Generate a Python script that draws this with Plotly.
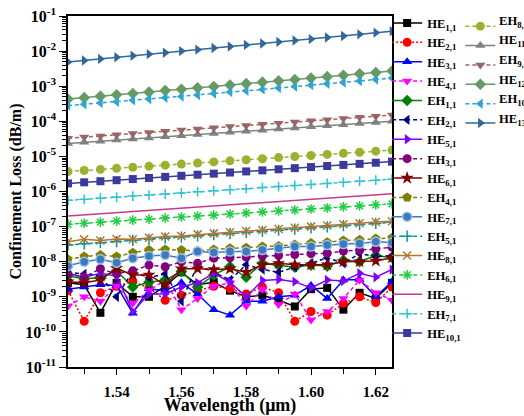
import plotly.graph_objects as go

wavelength = [1.525, 1.530, 1.535, 1.540, 1.545, 1.550, 1.555, 1.560, 1.565, 1.570, 1.575,
              1.580, 1.585, 1.590, 1.595, 1.600, 1.605, 1.610, 1.615, 1.620, 1.625]

HE11 = [2.5e-9, 2.2e-9, 3.5e-10, 2.5e-9, 1.0e-9, 1.0e-9, 2.0e-9, 5.0e-9, 2.2e-9, 2.6e-9, 1.5e-9,
        1.0e-9, 1.1e-9, 8e-10, 5.3e-10, 1.65e-9, 1.8e-9, 4.3e-10, 1.3e-9, 9e-10, 2.5e-9]
HE21 = [1.5e-9, 2.0e-10, 1.3e-9, 2.0e-9, 2.7e-9, 1.8e-9, 8e-10, 1.1e-9, 1.5e-9, 2.0e-9, 1.7e-9,
        1.2e-9, 1.9e-9, 1.3e-9, 2.0e-10, 3.8e-10, 3.0e-10, 6.5e-10, 1.0e-9, 6.8e-10, 1.9e-9]
HE31 = [1.65e-9, 1.9e-9, 2.2e-9, 2.1e-9, 3.4e-10, 1.7e-9, 1.5e-9, 2.5e-9, 1.2e-9, 4.3e-10, 3.0e-10,
        7.5e-10, 7.5e-10, 1.0e-9, 1.1e-9, 2.1e-9, 9e-10, 3.0e-9, 3.1e-9, 1.0e-9, 2.7e-9]
HE41 = [5.5e-10, 1.0e-9, 7.5e-10, 2.0e-9, 6.5e-10, 1.5e-9, 3.0e-9, 4.3e-10, 9e-10, 2.0e-9, 2.5e-9,
        5.5e-10, 1.65e-9, 6e-10, 1.2e-9, 2.2e-10, 3.8e-10, 9e-10, 3.0e-9, 1.3e-9, 8e-10]
EH11 = [4e-9, 3.2e-9, 3.6e-9, 5.5e-9, 1.9e-9, 2.6e-9, 3.0e-9, 5.3e-9, 1.9e-9, 4.2e-9, 7.2e-9,
        3.6e-9, 9e-9, 8e-9, 7e-9, 8e-9, 7.5e-9, 1.1e-8, 1.0e-8, 1.5e-8, 1.3e-8]
EH21 = [5e-9, 4.5e-9, 4.0e-9, 1.0e-9, 5.3e-9, 3.5e-9, 4.5e-9, 7.5e-10, 8e-9, 5e-9, 3e-9,
        8.2e-9, 6e-9, 5e-9, 7e-9, 9e-9, 1.3e-8, 9e-9, 1.7e-8, 1.4e-8, 1.5e-8]
HE51 = [4.7e-9, 3.6e-9, 4.7e-9, 3.9e-9, 3.8e-10, 1.2e-9, 1.2e-9, 1.9e-9, 2.5e-9, 4.7e-9, 2.6e-9,
        1.0e-9, 2.9e-9, 3.1e-9, 2.7e-9, 1.8e-9, 3.0e-9, 2.8e-9, 4.7e-9, 3.6e-9, 6.0e-9]
EH31 = [4.5e-9, 3.6e-9, 6.3e-9, 4.5e-9, 5.5e-9, 8e-9, 7.2e-9, 1.0e-8, 9e-9, 1.26e-8, 1.3e-8,
        1.35e-8, 1.45e-8, 1.5e-8, 1.6e-8, 1.7e-8, 1.75e-8, 2.0e-8, 2.1e-8, 2.3e-8, 2.6e-8]
HE61 = [2.7e-9, 2.5e-9, 3.0e-9, 6.5e-9, 4.2e-9, 4.2e-9, 2.2e-9, 6.3e-9, 6.3e-9, 6.0e-9, 6.3e-9,
        5.0e-9, 8.2e-9, 9.0e-9, 8.2e-9, 8.2e-9, 8.2e-9, 1.0e-8, 1.0e-8, 1.05e-8, 1.3e-8]
EH41 = [1.17e-8, 1.4e-8, 1.55e-8, 1.4e-8, 1.8e-8, 2.15e-8, 2.23e-8, 2.15e-8, 2.05e-8, 2.23e-8, 2.4e-8,
        2.5e-8, 2.7e-8, 2.8e-8, 3.1e-8, 3.4e-8, 3.6e-8, 4.0e-8, 4.2e-8, 4.6e-8, 4.8e-8]
HE71 = [7.6e-9, 1.0e-8, 1.17e-8, 9.3e-9, 1.26e-8, 1.45e-8, 1.55e-8, 1.26e-8, 1.95e-8, 1.82e-8, 1.95e-8,
        1.95e-8, 2.15e-8, 2.4e-8, 2.7e-8, 2.7e-8, 3.0e-8, 3.2e-8, 3.3e-8, 3.7e-8, 3.5e-8]
EH51 = [3.0e-8, 3.23e-8, 3.48e-8, 3.75e-8, 4.04e-8, 4.35e-8, 4.68e-8, 5.04e-8, 5.43e-8, 5.85e-8, 6.3e-8,
        6.78e-8, 7.3e-8, 7.87e-8, 8.47e-8, 9.13e-8, 9.83e-8, 1.06e-7, 1.14e-7, 1.23e-7, 1.32e-7]
HE81 = [3.7e-8, 4.35e-8, 4.0e-8, 4.45e-8, 4.35e-8, 4.8e-8, 5.2e-8, 5.4e-8, 6.0e-8, 6.4e-8, 6.9e-8,
        7.5e-8, 8.0e-8, 8.5e-8, 9.3e-8, 1.0e-7, 1.07e-7, 1.17e-7, 1.24e-7, 1.35e-7, 1.42e-7]
EH61 = [1.17e-7, 1.25e-7, 1.34e-7, 1.43e-7, 1.53e-7, 1.63e-7, 1.75e-7, 1.87e-7, 2.0e-7, 2.13e-7, 2.28e-7,
        2.44e-7, 2.61e-7, 2.79e-7, 2.98e-7, 3.18e-7, 3.4e-7, 3.64e-7, 3.89e-7, 4.16e-7, 4.45e-7]
HE91 = [2.0e-7, 2.15e-7, 2.32e-7, 2.49e-7, 2.68e-7, 2.89e-7, 3.1e-7, 3.34e-7, 3.6e-7, 3.87e-7, 4.16e-7,
        4.48e-7, 4.82e-7, 5.19e-7, 5.58e-7, 6.0e-7, 6.46e-7, 6.95e-7, 7.48e-7, 8.05e-7, 8.66e-7]
EH71 = [5.6e-7, 6.0e-7, 6.43e-7, 6.9e-7, 7.4e-7, 7.93e-7, 8.5e-7, 9.11e-7, 9.77e-7, 1.05e-6, 1.12e-6,
        1.2e-6, 1.29e-6, 1.38e-6, 1.48e-6, 1.59e-6, 1.7e-6, 1.83e-6, 1.96e-6, 2.1e-6, 2.25e-6]
HE101 = [1.7e-6, 1.83e-6, 1.96e-6, 2.1e-6, 2.26e-6, 2.43e-6, 2.61e-6, 2.8e-6, 3.01e-6, 3.23e-6, 3.47e-6,
         3.73e-6, 4.0e-6, 4.3e-6, 4.62e-6, 4.96e-6, 5.33e-6, 5.72e-6, 6.14e-6, 6.6e-6, 7.1e-6]
EH81 = [3.7e-6, 3.97e-6, 4.26e-6, 4.57e-6, 4.9e-6, 5.26e-6, 5.64e-6, 6.05e-6, 6.5e-6, 6.97e-6, 7.48e-6,
        8.02e-6, 8.6e-6, 9.23e-6, 9.9e-6, 1.06e-5, 1.14e-5, 1.22e-5, 1.31e-5, 1.41e-5, 1.51e-5]
HE111 = [2.35e-5, 2.53e-5, 2.72e-5, 2.92e-5, 3.14e-5, 3.37e-5, 3.63e-5, 3.9e-5, 4.19e-5, 4.5e-5, 4.84e-5,
         5.2e-5, 5.59e-5, 6.01e-5, 6.46e-5, 6.95e-5, 7.47e-5, 8.03e-5, 8.63e-5, 9.28e-5, 9.98e-5]
EH91 = [3.3e-5, 3.56e-5, 3.84e-5, 4.15e-5, 4.47e-5, 4.83e-5, 5.21e-5, 5.62e-5, 6.06e-5, 6.54e-5, 7.06e-5,
        7.62e-5, 8.22e-5, 8.87e-5, 9.57e-5, 1.03e-4, 1.11e-4, 1.2e-4, 1.3e-4, 1.4e-4, 1.51e-4]
HE121 = [4.3e-4, 4.7e-4, 5.2e-4, 5.7e-4, 6.2e-4, 6.8e-4, 7.5e-4, 8.2e-4, 9.0e-4, 9.8e-4, 1.08e-3,
         1.18e-3, 1.3e-3, 1.42e-3, 1.55e-3, 1.7e-3, 1.87e-3, 2.05e-3, 2.25e-3, 2.45e-3, 2.7e-3]
EH101 = [2.8e-4, 3.05e-4, 3.3e-4, 3.6e-4, 3.95e-4, 4.3e-4, 4.7e-4, 5.1e-4, 5.6e-4, 6.2e-4, 6.8e-4,
         7.4e-4, 8.1e-4, 8.9e-4, 9.8e-4, 1.07e-3, 1.17e-3, 1.28e-3, 1.41e-3, 1.55e-3, 1.7e-3]
HE131 = [4.9e-3, 5.4e-3, 6.0e-3, 6.7e-3, 7.4e-3, 8.2e-3, 9.0e-3, 1.0e-2, 1.1e-2, 1.22e-2, 1.35e-2,
         1.5e-2, 1.65e-2, 1.83e-2, 2.0e-2, 2.2e-2, 2.45e-2, 2.7e-2, 3.0e-2, 3.35e-2, 3.7e-2]

x_ticks = [1.54, 1.56, 1.58, 1.60, 1.62]
x_ticktext = ["1.54", "1.56", "1.58", "1.60", "1.62"]
x_minor = [1.53, 1.55, 1.57, 1.59, 1.61]
y_exponents = [-11, -10, -9, -8, -7, -6, -5, -4, -3, -2, -1]

FONT = "Liberation Serif, Times New Roman, serif"
LEG_SIZE = 12.6

# (base, subscript, data, color, dash, symbol, size, legend)
series = [
    ("HE", "1,1", HE11, "#000000", "solid", "square", 8, "legend"),
    ("HE", "2,1", HE21, "#ff0000", "2px,2px", "circle", 9, "legend"),
    ("HE", "3,1", HE31, "#0000ff", "solid", "triangle-up", 9, "legend"),
    ("HE", "4,1", HE41, "#ff00ff", "4px,3px", "triangle-down", 9, "legend"),
    ("EH", "1,1", EH11, "#008000", "solid", "diamond", 9, "legend"),
    ("EH", "2,1", EH21, "#000080", "4px,3px", "triangle-left", 9, "legend"),
    ("HE", "5,1", HE51, "#8000ff", "solid", "triangle-right", 9, "legend"),
    ("EH", "3,1", EH31, "#800080", "4px,3px", "circle", 9, "legend"),
    ("HE", "6,1", HE61, "#800000", "solid", "star", 10, "legend"),
    ("EH", "4,1", EH41, "#808000", "4px,3px", "pentagon", 10, "legend"),
    ("HE", "7,1", HE71, "#3d79bd", "solid", "circle", 9, "legend"),
    ("EH", "5,1", EH51, "#009999", "4px,3px", "cross-thin", 8, "legend"),
    ("HE", "8,1", HE81, "#b8732e", "solid", "x-thin", 8, "legend"),
    ("EH", "6,1", EH61, "#22cc44", "4px,3px", "asterisk", 8, "legend"),
    ("HE", "9,1", HE91, "#c33b8a", "solid", None, 0, "legend"),
    ("EH", "7,1", EH71, "#2ec4d0", "4px,3px", "cross-thin", 7, "legend"),
    ("HE", "10,1", HE101, "#3a3a9a", "solid", "square", 8, "legend"),
    ("EH", "8,1", EH81, "#99b32e", "4px,3px", "circle", 9, "legend2"),
    ("HE", "11,1", HE111, "#808080", "solid", "triangle-up", 9, "legend2"),
    ("EH", "9,1", EH91, "#996666", "4px,3px", "triangle-down", 9, "legend2"),
    ("HE", "12,1", HE121, "#669966", "solid", "diamond", 9, "legend2"),
    ("EH", "10,1", EH101, "#2fa4d4", "4px,3px", "triangle-left", 9, "legend2"),
    ("HE", "13,1", HE131, "#336699", "solid", "triangle-right", 9, "legend2"),
]

# second legend column: symbols in legend2, labels as text next to them
col2_rows_px = [21.5, 41.2, 60.9, 80.6, 100.3, 120.0]
PLOT_TOP, PLOT_BOTTOM, PLOT_LEFT, PLOT_RIGHT = 16, 367, 68, 392

fig = go.Figure()
annotations = []
col2_index = 0
for base, sub, data, color, dash, symbol, size, leg in series:
    line_only = symbol in ("cross-thin", "x-thin", "asterisk")
    marker = None
    mode = "lines"
    if symbol:
        mode = "lines+markers"
        marker = dict(symbol=symbol, size=size, color=color,
                      line=dict(color=color, width=1.5 if line_only else 0))
        if symbol == "circle" and color == "#3d79bd":
            marker["line"] = dict(color="#9cc0e6", width=1.5)
    label = f"<b>{base}<sub>{sub}</sub></b>"
    fig.add_trace(go.Scatter(
        x=wavelength, y=data, mode=mode,
        name=label if leg == "legend" else "",
        line=dict(color=color, width=1.5, dash=dash),
        marker=marker, legend=leg,
    ))
    if leg == "legend2":
        py = col2_rows_px[col2_index]
        col2_index += 1
        annotations.append(dict(
            text=label, xref="paper", yref="paper",
            x=(497 - PLOT_LEFT) / (PLOT_RIGHT - PLOT_LEFT),
            y=(PLOT_BOTTOM - py) / (PLOT_BOTTOM - PLOT_TOP),
            xanchor="left", yanchor="middle", showarrow=False,
            font=dict(family=FONT, size=LEG_SIZE, color="black"),
        ))

axis_font = dict(family=FONT, size=16, color="black")
y_tickvals = [10.0 ** e for e in y_exponents]
y_minor = [k * 10.0 ** e for e in y_exponents[:-1] for k in range(2, 10)]

fig.update_layout(
    width=524, height=416,
    margin=dict(l=68, r=132, t=16, b=49, autoexpand=False),
    paper_bgcolor="white", plot_bgcolor="white",
    font=dict(family=FONT, color="black"),
    showlegend=True,
    annotations=annotations,
    legend=dict(x=0.985, y=1.022, xanchor="left", yanchor="top", maxheight=410,
                bgcolor="rgba(0,0,0,0)", font=dict(family=FONT, size=LEG_SIZE, color="black"),
                itemwidth=30, tracegroupgap=0),
    legend2=dict(x=1.211, y=1.013, xanchor="left", yanchor="top", maxheight=410,
                 bgcolor="rgba(0,0,0,0)", font=dict(family=FONT, size=LEG_SIZE, color="black"),
                 itemwidth=30, tracegroupgap=0),
    xaxis=dict(
        range=[1.525, 1.625], showgrid=False, zeroline=False,
        showline=True, linecolor="black", linewidth=1.5, mirror=True,
        ticks="outside", ticklen=6, tickwidth=1.2, tickcolor="black",
        ticklabelstandoff=4,
        tickvals=x_ticks, ticktext=[f"<b>{t}</b>" for t in x_ticktext],
        tickfont=dict(family=FONT, size=15, color="black"),
        minor=dict(tickvals=x_minor, ticks="outside", ticklen=5, tickwidth=1.2, tickcolor="black", showgrid=False),
        title=dict(text="<b>Wavelength (μm)</b>", font=dict(family=FONT, size=18, color="black"), standoff=0),
    ),
    xaxis2=dict(
        overlaying="x", side="top", range=[1.525, 1.625], showgrid=False, zeroline=False,
        showline=False, ticks="inside", ticklen=4, tickwidth=1.2, tickcolor="black",
        tickvals=x_ticks, showticklabels=False,
        minor=dict(tickvals=x_minor, ticks="inside", ticklen=3, tickwidth=1.2, tickcolor="black", showgrid=False),
    ),
    yaxis=dict(
        type="log", range=[-11, -1], showgrid=False, zeroline=False,
        showline=True, linecolor="black", linewidth=1.5, mirror=True,
        ticks="outside", ticklen=7, tickwidth=1.2, tickcolor="black",
        tickvals=y_tickvals,
        ticktext=[f"<b>10<sup>{e}</sup></b>" for e in y_exponents],
        tickfont=axis_font,
        minor=dict(tickvals=y_minor, ticks="outside", ticklen=4, tickwidth=1, tickcolor="black", showgrid=False),
        title=dict(text="<b>Confinement Loss (dB/m)</b>", font=dict(family=FONT, size=16, color="black"), standoff=0),
    ),
    yaxis2=dict(
        overlaying="y", side="right", type="log", range=[-11, -1], showgrid=False, zeroline=False,
        showline=False, ticks="inside", ticklen=5, tickwidth=1.2, tickcolor="black",
        tickvals=y_tickvals, showticklabels=False,
        minor=dict(tickvals=y_minor, ticks="inside", ticklen=3, tickwidth=1, tickcolor="black", showgrid=False),
    ),
)

fig.write_html("out.html")
